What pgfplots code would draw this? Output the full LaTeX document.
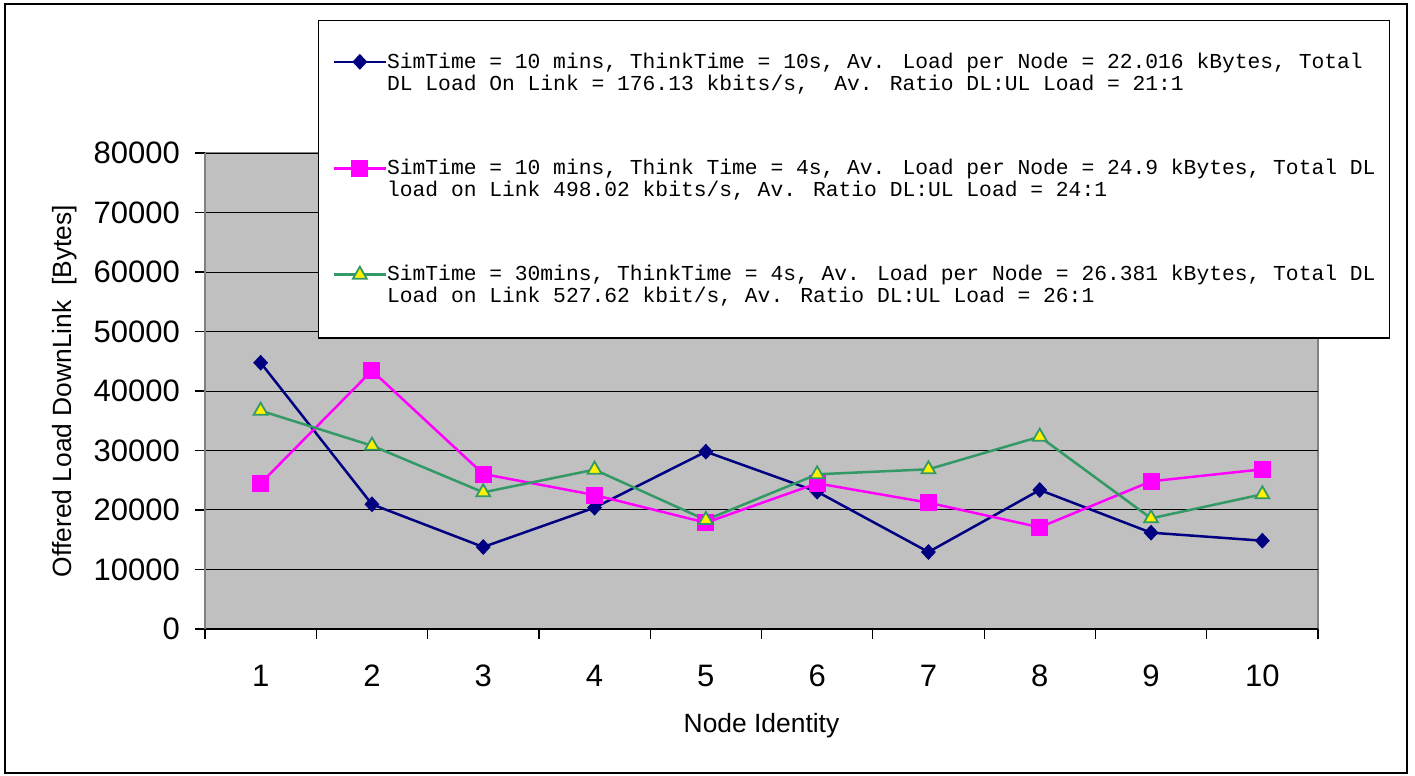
\documentclass[border=0pt]{standalone}
\usepackage{fontspec}
\setmainfont{Liberation Sans}
\newfontfamily\legfont{Liberation Mono}
\usepackage{pgfplots}
\usepackage{pgfplotstable}
\pgfplotsset{compat=1.18}
\definecolor{navyc}{HTML}{000080}
\definecolor{magc}{HTML}{FF00FF}
\definecolor{greenc}{HTML}{339966}
\definecolor{plotbg}{HTML}{C0C0C0}
\definecolor{bordergray}{HTML}{808080}
\pgfplotstableread{
x s1 s2 s3
1 44750 24480 36690
2 20960 43420 30810
3 13780 26050 22970
4 20390 22520 26780
5 29800 17870 18320
6 23080 24480 26000
7 12940 21230 26840
8 23360 17090 32320
9 16190 24820 18600
10 14840 26840 22640
}\datatable
\begin{document}
\begin{tikzpicture}
\useasboundingbox (0,0) rectangle (707.5pt,388pt);
\draw[black, line width=0.75pt] (2.5pt,1.5pt) rectangle (703.5pt,386pt);
\begin{axis}[
  at={(102.5pt,73.5pt)}, anchor=south west,
  scale only axis, width=556.5pt, height=238pt,
  xmin=0.5, xmax=10.5, ymin=0, ymax=80000,
  axis background/.style={fill=plotbg, draw=bordergray, line width=1pt},
  axis x line*=bottom, axis y line*=left,
  x axis line style={black, line width=0.6pt, -},
  y axis line style={bordergray, line width=1pt, -},
  tick align=outside,
  major tick length=5pt,
  tick style={black, line width=0.6pt},
  xtick={0.5,1.5,2.5,3.5,4.5,5.5,6.5,7.5,8.5,9.5,10.5},
  xticklabels={},
  extra x ticks={1,2,3,4,5,6,7,8,9,10},
  extra x tick labels={1,2,3,4,5,6,7,8,9,10},
  extra x tick style={tick style={draw=none}, xticklabel style={yshift=-9.5pt}},
  ytick={0,10000,...,80000},
  scaled y ticks=false,
  yticklabel style={/pgf/number format/fixed, /pgf/number format/1000 sep={}, xshift=-4pt},
  /pgf/number format/assume math mode=true,
  ticklabel style={font=\fontsize{15.5}{18}\selectfont},
  ymajorgrids, major grid style={black, line width=0.5pt},
  xlabel={Node Identity},
  ylabel={Offered Load DownLink \ [Bytes]},
  every axis x label/.style={at={(rel axis cs:0.5,-0.2185)}, anchor=base, font=\fontsize{13.2}{15}\selectfont},
  every axis y label/.style={at={(rel axis cs:-0.1195,0.5)}, anchor=base, rotate=90, font=\fontsize{13.2}{15}\selectfont},
  legend cell align=left,
  legend style={at={(rel axis cs:0.10153,1.2794)}, anchor=north west,
    draw=black, line width=0.6pt, fill=white,
    font=\legfont\fontsize{10.65}{11}\selectfont,
    cells={align=left},
    nodes={inner sep=0pt},
    inner xsep=7pt, inner ysep=16pt,
    row sep=33pt,
    /tikz/every even column/.append style={column sep=2.5pt}},
  legend image code/.code={\draw[mark repeat=2, mark phase=2] plot coordinates {(0pt,5.5pt) (13pt,5.5pt) (26pt,5.5pt)};},
]
\addplot[navyc, line width=1.25pt, mark=diamond*, mark size=3.6pt, mark options={xscale=1.25, fill=navyc, line width=0.5pt}] table[x=x, y=s1] {\datatable};
\addlegendentry{SimTime = 10 mins, ThinkTime = 10s, Av. Load per Node = 22.016 kBytes, Total\\DL Load On Link = 176.13 kbits/s, \ Av. Ratio DL:UL Load = 21:1}
\addplot[magc, line width=1.25pt, mark=square*, mark size=4pt, mark options={fill=magc, line width=0.5pt}] table[x=x, y=s2] {\datatable};
\addlegendentry{SimTime = 10 mins, Think Time = 4s, Av. Load per Node = 24.9 kBytes, Total DL\\load on Link 498.02 kbits/s, Av. Ratio DL:UL Load = 24:1}
\addplot[greenc, line width=1.25pt, mark=triangle*, mark size=4pt, mark options={fill=yellow, draw=greenc, line width=0.9pt}] table[x=x, y=s3] {\datatable};
\addlegendentry{SimTime = 30mins, ThinkTime = 4s, Av. Load per Node = 26.381 kBytes, Total DL\\Load on Link 527.62 kbit/s, Av. Ratio DL:UL Load = 26:1}
\end{axis}
\end{tikzpicture}
\end{document}
